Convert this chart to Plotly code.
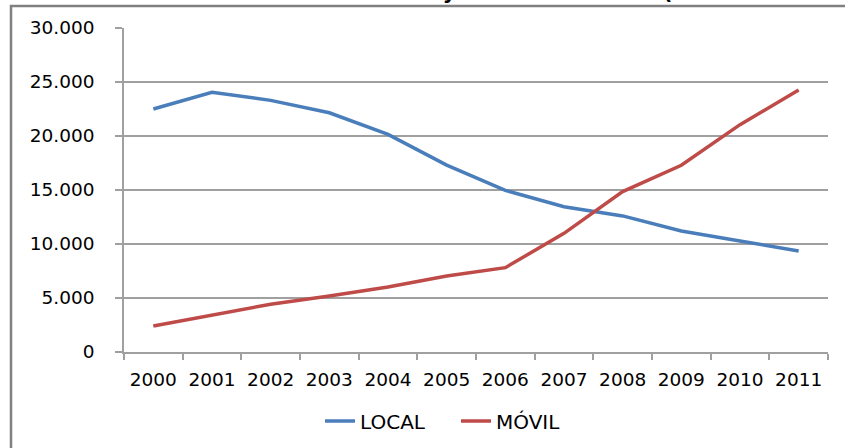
import plotly.graph_objects as go

years = ["2000", "2001", "2002", "2003", "2004", "2005", "2006", "2007", "2008", "2009", "2010", "2011"]
local = [22500, 24050, 23300, 22150, 20150, 17300, 14970, 13450, 12600, 11200, 10280, 9350]
movil = [2410, 3430, 4420, 5190, 6020, 7040, 7810, 10990, 14850, 17290, 21050, 24250]
series_names = ["LOCAL", "MÓVIL"]
title_text = "Líneas en servicio local y móvil 2000-2011 (en miles de líneas)"

W, H = 845, 448
L, R, T, B = 124, 17, 28, 96
pw, ph = W - L - R, H - T - B

def px(x):
    return (x - L) / pw

def py(y):
    return (H - B - y) / ph

fig = go.Figure()
fig.add_trace(go.Scatter(x=years, y=local, name=series_names[0], mode="lines",
                         line=dict(color="#4A7EBB", width=3.5)))
fig.add_trace(go.Scatter(x=years, y=movil, name=series_names[1], mode="lines",
                         line=dict(color="#BE4B48", width=3.5)))

font = "DejaVu Sans"
fig.update_layout(
    width=W, height=H,
    margin=dict(l=L, r=R, t=T, b=B, autoexpand=False),
    paper_bgcolor="white", plot_bgcolor="white",
    separators=",.",
    showlegend=True,
    legend=dict(orientation="h", x=px(320), xanchor="left", y=py(421), yanchor="middle",
                font=dict(family=font, size=20, color="#000000"),
                itemwidth=30, tracegroupgap=0, bgcolor="rgba(0,0,0,0)",
                entrywidth=91, entrywidthmode="pixels"),
    font=dict(family=font, size=18, color="#000000"),
)
fig.update_xaxes(
    type="category", showgrid=False, showline=True, linecolor="#A0A0A0", linewidth=1.5,
    ticks="outside", tickson="boundaries", ticklen=6, tickcolor="#A0A0A0", tickwidth=1.5,
    tickfont=dict(family=font, size=18.5, color="#000000"), ticklabelstandoff=10,
    range=[-0.5, 11.5], fixedrange=True, automargin=False,
)
fig.update_yaxes(
    range=[0, 30000], dtick=5000, tickformat=",d",
    showgrid=True, gridcolor="#A0A0A0", gridwidth=1.5,
    showline=True, linecolor="#A0A0A0", linewidth=1.5,
    ticks="outside", ticklen=7, tickcolor="#A0A0A0", tickwidth=1.5,
    tickfont=dict(family=font, size=18.5, color="#000000"), ticklabelstandoff=17,
    zeroline=False, fixedrange=True, automargin=False,
)

# outer frame (left and top edges visible)
fig.add_shape(type="path", xref="paper", yref="paper",
              path=f"M {px(11)} {py(460)} L {px(11)} {py(6)} L {px(860)} {py(6)}",
              line=dict(color="#808080", width=2.5))

# title mostly above the visible area
fig.add_annotation(text="<b>" + title_text + "</b>", xref="paper", yref="paper",
                   x=px(165), y=py(6), xanchor="left", yanchor="bottom", showarrow=False,
                   font=dict(family=font, size=20.5, color="#000000"))

fig.write_html("out.html", config={"displayModeBar": False},
               post_script="document.body.style.margin='0';document.body.style.padding='0';document.body.style.overflow='hidden';")
